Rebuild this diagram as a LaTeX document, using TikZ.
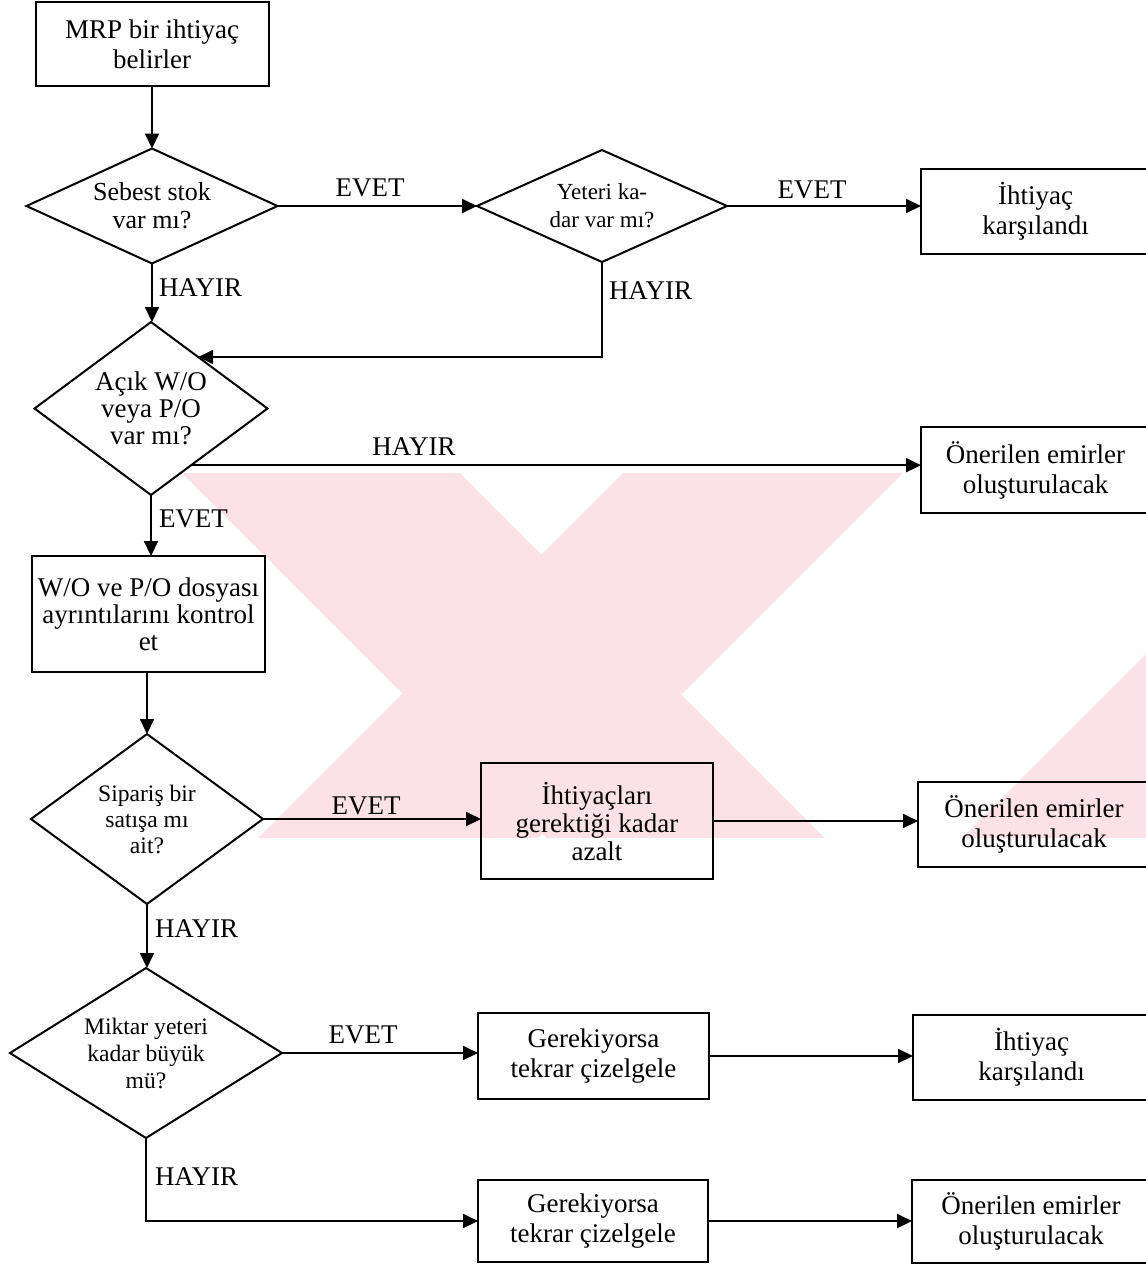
\documentclass[tikz,border=0pt]{standalone}
\usepackage{fontspec}
\setmainfont{Liberation Serif}
\usetikzlibrary{arrows.meta,shapes.geometric,calc}
\definecolor{markpink}{RGB}{252,226,230}

\begin{document}
\begin{tikzpicture}[x=0.5pt,y=-0.5pt,
  line width=1pt,
  every node/.style={inner sep=0pt, outer sep=0pt},
  procbox/.style={draw, rectangle, align=center, font=\fontsize{13.5}{15}\selectfont},
  decision/.style={draw, diamond, align=center},
  flow/.style={-{Triangle[length=7.5pt,width=7pt]}},
  lbl/.style={font=\fontsize{13.5}{15}\selectfont}
]
\useasboundingbox (0,0) rectangle (1146,1265);

% faint background emblem
\begin{scope}
  \clip (180,473) rectangle (1146,838);
  \fill[markpink] (182,473) -- (460,473) -- (825,838) -- (547,838) -- cycle;
  \fill[markpink] (258,838) -- (538,838) -- (903,473) -- (623,473) -- cycle;
  \fill[markpink] (962,838) -- (1146,838) -- (1146,654) -- cycle;
\end{scope}

% process boxes
\node[procbox, minimum width=116.5pt, minimum height=42pt] (a) at (152,44) {MRP bir ihtiyaç\\belirler};
\node[procbox, minimum width=114.5pt, minimum height=42.5pt] (d) at (1035.5,211.5) {İhtiyaç\\karşılandı};
\node[procbox, minimum width=114.5pt, minimum height=43pt] (f) at (1035.5,470) {Önerilen emirler\\oluşturulacak};
\node[procbox, minimum width=116.5pt, minimum height=58pt, font=\fontsize{13.5}{13.5}\selectfont] (g) at (148.5,614) {W/O ve P/O dosyası\\ayrıntılarını kontrol\\et};
\node[procbox, minimum width=116pt, minimum height=58pt, font=\fontsize{13.5}{14}\selectfont] (i) at (597,821) {İhtiyaçları\\gerektiği kadar\\azalt};
\node[procbox, minimum width=116pt, minimum height=42.5pt] (j) at (1034,824.5) {Önerilen emirler\\oluşturulacak};
\node[procbox, minimum width=115.5pt, minimum height=43pt] (l) at (593.5,1056) {Gerekiyorsa\\tekrar çizelgele};
\node[procbox, minimum width=118.5pt, minimum height=42.5pt] (m) at (1031.5,1057.5) {İhtiyaç\\karşılandı};
\node[procbox, minimum width=115pt, minimum height=41pt] (n) at (593,1221) {Gerekiyorsa\\tekrar çizelgele};
\node[procbox, minimum width=119pt, minimum height=41.5pt] (o) at (1031,1221.5) {Önerilen emirler\\oluşturulacak};

% decisions
\node[decision, aspect=2.18, minimum width=125.5pt, minimum height=57.5pt, font=\fontsize{13}{14}\selectfont] (b) at (152,206) {Sebest stok\\var mı?};
\node[decision, aspect=2.23, minimum width=125pt, minimum height=56pt, font=\fontsize{11.5}{14}\selectfont] (c) at (602,206) {Yeteri ka-\\dar var mı?};
\node[decision, aspect=1.35, minimum width=116.5pt, minimum height=86.5pt, font=\fontsize{13.5}{13.5}\selectfont] (e) at (151,408.5) {Açık W/O\\veya P/O\\var mı?};
\node[decision, aspect=1.36, minimum width=116pt, minimum height=85pt, font=\fontsize{11.8}{13}\selectfont] (h) at (147,819) {Sipariş bir\\satışa mı\\ait?};
\node[decision, aspect=1.6, minimum width=136pt, minimum height=85pt, font=\fontsize{11.8}{13.5}\selectfont] (k) at (146,1053) {Miktar yeteri\\kadar büyük\\mü?};

% points on the edges of the third decision
\coordinate (ein) at ($(e.north)!0.405!(e.east)$);
\coordinate (eout) at ($(e.east)!0.655!(e.south)$);

% connectors
\draw[flow] (a.south) -- (a.south |- b.north);
\draw[flow] (b.east) -- (c.west);
\draw[flow] (c.east) -- (c.east -| d.west);
\draw[flow] (b.south) -- (b.south |- e.north);
\draw[flow] (c.south) |- (ein);
\draw[flow] (eout) -- (eout -| f.west);
\draw[flow] (e.south) -- (e.south |- g.north);
\draw[flow] (h.north |- g.south) -- (h.north);
\draw[flow] (h.east) -- (h.east -| i.west);
\draw[flow] (i.east) -- (i.east -| j.west);
\draw[flow] (h.south) -- (h.south |- k.north);
\draw[flow] (k.east) -- (k.east -| l.west);
\draw[flow] (l.east) -- (l.east -| m.west);
\draw[flow] (k.south) |- (n.west);
\draw[flow] (n.east) -- (n.east -| o.west);

% branch labels
\node[lbl] (t1) at (370,188) {EVET};
\node[lbl] (t2) at (812,190) {EVET};
\node[lbl, anchor=west] (t3) at (159,288) {HAYIR};
\node[lbl, anchor=west] (t4) at (609,291) {HAYIR};
\node[lbl] (t5) at (414,447) {HAYIR};
\node[lbl, anchor=west] (t6) at (159,519) {EVET};
\node[lbl] (t7) at (366,806) {EVET};
\node[lbl, anchor=west] (t8) at (155,929) {HAYIR};
\node[lbl] (t9) at (363,1035) {EVET};
\node[lbl, anchor=west] (t10) at (155,1177) {HAYIR};
\end{tikzpicture}
\end{document}
